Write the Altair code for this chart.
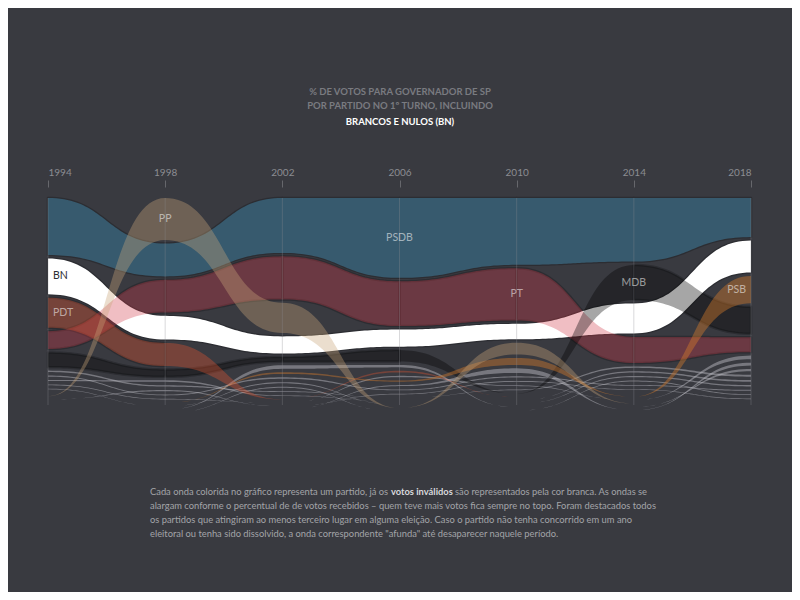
import altair as alt
import pandas as pd

# ---------------- data (share of total votes, % incl. blank/null) ----------------
years = [1994, 1998, 2002, 2006, 2010, 2014, 2018]

PSDB = [35.0, 20.2, 33.7, 49.0, 41.0, 39.0, 24.0]
BN   = [22.0, 14.5, 10.5, 10.5, 9.5, 18.4, 19.6]
PT   = [11.0, 20.0, 26.4, 27.5, 32.0, 16.0, 9.2]
MDB  = [9.0, 4.5, 3.0, 7.0, 0.0, 21.5, 16.6]
PDT  = [18.4, 14.2, 0.0, 1.0, 0.0, 0.0, 0.0]
PSB  = [0.0, 0.0, 1.0, 0.7, 4.3, 0.0, 16.8]
PP   = [0.0, 25.8, 18.5, 0.0, 7.2, 0.0, 0.0]
O1 = [0.9, 0.8, 0.5, 0.0, 0.4, 0.9, 1.2]
O2 = [0.7, 0.5, 0.9, 0.5, 0.7, 0.5, 0.6]
O3 = [0.6, 1.0, 0.4, 0.0, 0.0, 0.8, 1.0]
O4 = [0.5, 0.4, 0.0, 0.8, 0.5, 0.0, 2.2]
O5 = [0.4, 0.0, 0.7, 0.0, 0.0, 0.7, 0.8]
O6 = [0.0, 0.7, 0.0, 0.4, 0.6, 0.4, 0.4]
O7 = [0.0, 0.0, 2.2, 1.5, 0.0, 0.0, 1.4]
O8 = [0.0, 0.0, 0.6, 0.0, 0.0, 0.6, 0.5]
O9 = [0.0, 0.0, 0.0, 0.6, 2.8, 0.0, 1.8]

party_names = ["PSDB", "PT", "BN", "MDB", "PDT", "PSB", "O1", "O2", "O3", "O4", "O5",
               "PP", "O6", "O7", "O8", "O9"]
party_values = [PSDB, PT, BN, MDB, PDT, PSB, O1, O2, O3, O4, O5, PP, O6, O7, O8, O9]

label_parties = ["PSDB", "PP", "BN", "PDT", "PT", "MDB", "PSB"]
label_years = [2006, 1998, 1994, 1994, 2010, 2014, 2018]

title_lines = ["% DE VOTOS PARA GOVERNADOR DE SP", "POR PARTIDO NO 1º TURNO, INCLUINDO",
               "BRANCOS E NULOS (BN)"]
note_lines = [
    "Cada onda colorida no gráfico representa um partido, já os",
    "votos inválidos",
    "são representados pela cor branca. As ondas se",
    "alargam conforme o percentual de de votos recebidos – quem teve mais votos fica sempre no topo. Foram destacados todos",
    "os partidos que atingiram ao menos terceiro lugar em alguma eleição. Caso o partido não tenha concorrido em um ano",
    "eleitoral ou tenha sido dissolvido, a onda correspondente \"afunda\" até desaparecer naquele período.",
]

# ---------------- styling ----------------
BG = "#393a40"
FONT = "Lato"
GAP = 2.1
others = [p for p in party_names if p.startswith("O")]
fills = {
    "PSDB": "#375a6e",
    "BN": "#ffffff",
    "PT": "rgba(209,58,72,0.33)",
    "PDT": "rgba(231,87,49,0.35)",
    "MDB": "rgba(0,0,0,0.35)",
    "PSB": "rgba(215,125,43,0.42)",
    "PP": "rgba(200,166,122,0.37)",
}
for o in others:
    fills[o] = "rgba(205,205,212,0.42)"

rows = []
for i, (p, vals) in enumerate(zip(party_names, party_values)):
    for y, v in zip(years, vals):
        rows.append({"party": p, "idx": i, "year": y, "value": v})
df = pd.DataFrame(rows)

W, H = 703, 243
PXU = 1.63
top_off = 11 / PXU
yscale = alt.Scale(domain=[-top_off, H / PXU - top_off], reverse=True, nice=False, zero=False)
xscale = alt.Scale(domain=[1994, 2018], nice=False, zero=False)
cscale = alt.Scale(domain=party_names, range=[fills[p] for p in party_names])

xaxis = alt.Axis(orient="top", values=years, format="d", title=None, domain=False, grid=False,
                 tickSize=7, tickColor="#66676c", labelColor="#8c8d92", labelFont=FONT,
                 labelFontSize=10, labelPadding=3)


def stacked(ch):
    return (
        ch.transform_window(
            window=[alt.WindowFieldDef(op="sum", field="value", **{"as": "cum"}),
                    alt.WindowFieldDef(op="row_number", **{"as": "rk"})],
            groupby=["year"],
            sort=[alt.SortField("value", order="descending"), alt.SortField("idx", order="ascending")],
            frame=[None, 0],
        )
        .transform_calculate(y1=f"datum.cum + (datum.rk - 1) * {GAP}")
        .transform_calculate(y0="datum.y1 - datum.value")
    )


def curves(subset, only_nonzero=False):
    ch = stacked(alt.Chart(df))
    ch = (
        ch.transform_window(
            window=[alt.WindowFieldDef(op="lead", field="y0", **{"as": "ny0"}),
                    alt.WindowFieldDef(op="lead", field="y1", **{"as": "ny1"}),
                    alt.WindowFieldDef(op="lead", field="year", **{"as": "nyear"}),
                    alt.WindowFieldDef(op="lead", field="value", **{"as": "nvalue"})],
            groupby=["party"],
            sort=[alt.SortField("year", order="ascending")],
        )
        .transform_filter("isValid(datum.nyear)")
        .transform_filter(alt.FieldOneOfPredicate(field="party", oneOf=subset))
    )
    if only_nonzero:
        ch = ch.transform_filter("datum.value > 0 && datum.nvalue > 0")
    return (
        ch.transform_calculate(ts="sequence(0, 1.0001, 0.025)")
        .transform_flatten(["ts"], as_=["t"])
        .transform_calculate(
            xx="datum.year + (datum.nyear - datum.year) * (1.5*datum.t - 1.5*datum.t*datum.t + datum.t*datum.t*datum.t)",
            s="3*datum.t*datum.t - 2*datum.t*datum.t*datum.t",
        )
        .transform_calculate(
            top="datum.y0 + (datum.ny0 - datum.y0) * datum.s",
            bot="datum.y1 + (datum.ny1 - datum.y1) * datum.s",
            seg="datum.party + '-' + datum.year",
        )
    )


def area_layer(subset):
    return curves(subset).mark_area(interpolate="linear").encode(
        x=alt.X("xx:Q", scale=xscale, axis=xaxis),
        y=alt.Y("top:Q", scale=yscale, axis=None),
        y2="bot:Q",
        color=alt.Color("party:N", scale=cscale, legend=None),
        detail="party:N",
    )


halo = curves(["PSDB", "BN", "PT", "MDB", "PDT"], only_nonzero=True).mark_area(
    interpolate="linear", fillOpacity=0, stroke="#2c2d32", strokeWidth=2.5, strokeJoin="round"
).encode(
    x=alt.X("xx:Q", scale=xscale, axis=xaxis),
    y=alt.Y("top:Q", scale=yscale, axis=None),
    y2="bot:Q",
    detail="seg:N",
)

layer_back = area_layer(["PSDB"] + others)
layer_bn = area_layer(["BN"])
layer_front = area_layer(["PT", "PDT", "MDB", "PSB", "PP"])

grid = alt.Chart(pd.DataFrame({"year": years})).mark_rule(
    color="rgba(140,140,146,0.33)", strokeWidth=1
).encode(x=alt.X("year:Q", scale=xscale, axis=xaxis), y=alt.value(11), y2=alt.value(218))

cond = " || ".join(f"(datum.party === '{p}' && datum.year === {y})" for p, y in zip(label_parties, label_years))


def label_layer(align, dx, yfilter):
    ch = stacked(alt.Chart(df)).transform_filter(cond).transform_filter(yfilter).transform_calculate(
        ym="(datum.y0 + datum.y1) / 2",
        lc="datum.party === 'BN' ? '#2c2d31' : 'rgba(255,255,255,0.55)'",
    )
    return ch.mark_text(align=align, dx=dx, baseline="middle", font=FONT, fontSize=10.5).encode(
        x=alt.X("year:Q", scale=xscale, axis=xaxis),
        y=alt.Y("ym:Q", scale=yscale, axis=None),
        text="party:N",
        color=alt.Color("lc:N", scale=None),
    )


lab_l = label_layer("left", 5, "datum.year === 1994")
lab_r = label_layer("right", -5, "datum.year === 2018")
lab_c = label_layer("center", 0, "datum.year !== 1994 && datum.year !== 2018")


def text_mark(txt, x, y, color, weight="normal", size=9.35, align="left"):
    return alt.Chart(alt.Data(values=[{}])).mark_text(
        text=txt, align=align, baseline="middle", font=FONT, fontSize=size,
        fontWeight=weight, color=color,
    ).encode(x=alt.value(x), y=alt.value(y))


TX = 352
titles = [
    text_mark(title_lines[0], TX, -95, "#7a7b80", "bold", 9.5, "center"),
    text_mark(title_lines[1], TX, -81, "#7a7b80", "bold", 9.5, "center"),
    text_mark(title_lines[2], TX, -65, "#ffffff", "bold", 9.5, "center"),
]
NX = 102
NC = "#a3a4a8"
notes = [
    text_mark(note_lines[0], NX, 305, NC),
    text_mark(note_lines[1], 343, 305, "#d8d8dc", "bold"),
    text_mark(note_lines[2], 407, 305, NC),
    text_mark(note_lines[3], NX, 319, NC),
    text_mark(note_lines[4], NX, 333, NC),
    text_mark(note_lines[5], NX, 347, NC),
]

chart = alt.layer(
    halo, layer_back, layer_bn, layer_front, grid, lab_l, lab_r, lab_c, *titles, *notes
).properties(
    width=W, height=H,
    autosize=alt.AutoSizeParams(type="none"),
    padding={"left": 40, "top": 179, "right": 41, "bottom": 162},
    background=BG,
).configure_view(stroke=None)

chart.save("out.html", embed_options={"renderer": "svg", "actions": False})
